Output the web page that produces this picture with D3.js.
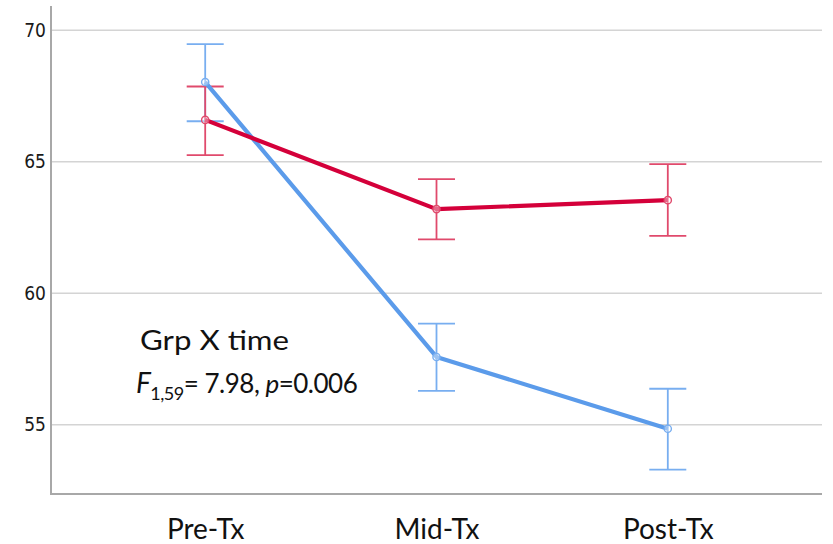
<!DOCTYPE html>
<html>
<head>
<meta charset="utf-8">
<script src="https://cdn.jsdelivr.net/npm/d3@7"></script>
<style>
  html, body { margin: 0; padding: 0; background: #fff; }
  svg { display: block; }
</style>
</head>
<body>
<svg id="chart" width="833" height="544"></svg>
<script>
// Time points
const categories = ["Pre-Tx", "Mid-Tx", "Post-Tx"];

// Group 1 (red): means and 95% CI bounds
const redMean = [66.59, 63.20, 63.54];
const redLow  = [65.25, 62.05, 62.18];
const redHigh = [67.86, 64.34, 64.91];

// Group 2 (blue): means and 95% CI bounds
const blueMean = [68.03, 57.58, 54.85];
const blueLow  = [66.54, 56.29, 53.30];
const blueHigh = [69.47, 58.85, 56.37];

const yTicks = [55, 60, 65, 70];

const svg = d3.select("#chart");
const plotLeft = 51, plotRight = 822, plotTop = 6, plotBottom = 494;

const x = d3.scalePoint().domain(categories).range([plotLeft, plotRight]).padding(2 / 3);
const y = d3.scaleLinear().domain([52.37, 70.92]).range([plotBottom, plotTop]);

// gridlines
svg.append("g").selectAll("line").data(yTicks).join("line")
  .attr("x1", plotLeft).attr("x2", plotRight)
  .attr("y1", d => y(d)).attr("y2", d => y(d))
  .attr("stroke", "#d4d4d4").attr("stroke-width", 1.6);

// y axis
const yAxis = svg.append("g").attr("transform", `translate(${plotLeft},0)`)
  .call(d3.axisLeft(y).tickValues(yTicks).tickSize(0).tickPadding(5));
yAxis.select(".domain").remove();
yAxis.selectAll("text")
  .attr("font-family", "'DejaVu Sans Condensed', 'Liberation Sans Narrow', sans-serif")
  .attr("font-size", 19).attr("fill", "#1a1a1a");

// x axis
const xAxis = svg.append("g").attr("transform", `translate(0,${plotBottom})`)
  .call(d3.axisBottom(x).tickSize(0).tickPadding(25));
xAxis.select(".domain").remove();
xAxis.selectAll("text")
  .attr("font-family", "Lato, 'Open Sans', sans-serif")
  .attr("font-size", 28).attr("fill", "#111");

// axis lines
svg.append("line").attr("x1", plotLeft).attr("x2", plotLeft).attr("y1", plotTop).attr("y2", plotBottom + 1)
  .attr("stroke", "#a8a8a8").attr("stroke-width", 2);
svg.append("line").attr("x1", plotLeft).attr("x2", plotRight).attr("y1", plotBottom).attr("y2", plotBottom)
  .attr("stroke", "#a8a8a8").attr("stroke-width", 2);

const groups = [
  { mean: blueMean, low: blueLow, high: blueHigh, line: "#5b9bea", bar: "#78aef0" },
  { mean: redMean,  low: redLow,  high: redHigh,  line: "#d4003a", bar: "#e04a6c" }
];

const cap = 18.5;
groups.forEach(g => {
  const eb = svg.append("g").attr("stroke", g.bar).attr("stroke-width", 1.8).attr("fill", "none");
  categories.forEach((c, i) => {
    eb.append("line").attr("x1", x(c)).attr("x2", x(c)).attr("y1", y(g.low[i])).attr("y2", y(g.high[i]));
    eb.append("line").attr("x1", x(c) - cap).attr("x2", x(c) + cap).attr("y1", y(g.high[i])).attr("y2", y(g.high[i]));
    eb.append("line").attr("x1", x(c) - cap).attr("x2", x(c) + cap).attr("y1", y(g.low[i])).attr("y2", y(g.low[i]));
  });
});

groups.forEach(g => {
  const line = d3.line().x((d, i) => x(categories[i])).y(d => y(d));
  svg.append("path").datum(g.mean).attr("d", line)
    .attr("fill", "none").attr("stroke", g.line).attr("stroke-width", 4.2)
    .attr("stroke-linejoin", "round");
  svg.append("g").selectAll("circle").data(g.mean).join("circle")
    .attr("cx", (d, i) => x(categories[i])).attr("cy", d => y(d)).attr("r", 3.6)
    .attr("fill", "#fff").attr("fill-opacity", 0.4)
    .attr("stroke", g.bar).attr("stroke-width", 1.4);
});

// interaction annotation
const ann = svg.append("g").attr("font-family", "Lato, 'Open Sans', sans-serif").attr("fill", "#111");
ann.append("text").attr("x", 140).attr("y", 350)
  .attr("font-size", 26).attr("textLength", 149).attr("lengthAdjust", "spacingAndGlyphs")
  .text("Grp X time");
const t2 = ann.append("text").attr("x", 136).attr("y", 393).attr("font-size", 26)
  .attr("letter-spacing", -0.5);
t2.append("tspan").attr("font-style", "italic").attr("font-size", 28).text("F");
t2.append("tspan").attr("font-size", 18).attr("dy", 7).text("1,59");
t2.append("tspan").attr("dy", -7).text("= 7.98, ");
t2.append("tspan").attr("font-style", "italic").text("p");
t2.append("tspan").text("=0.006");
</script>
</body>
</html>
